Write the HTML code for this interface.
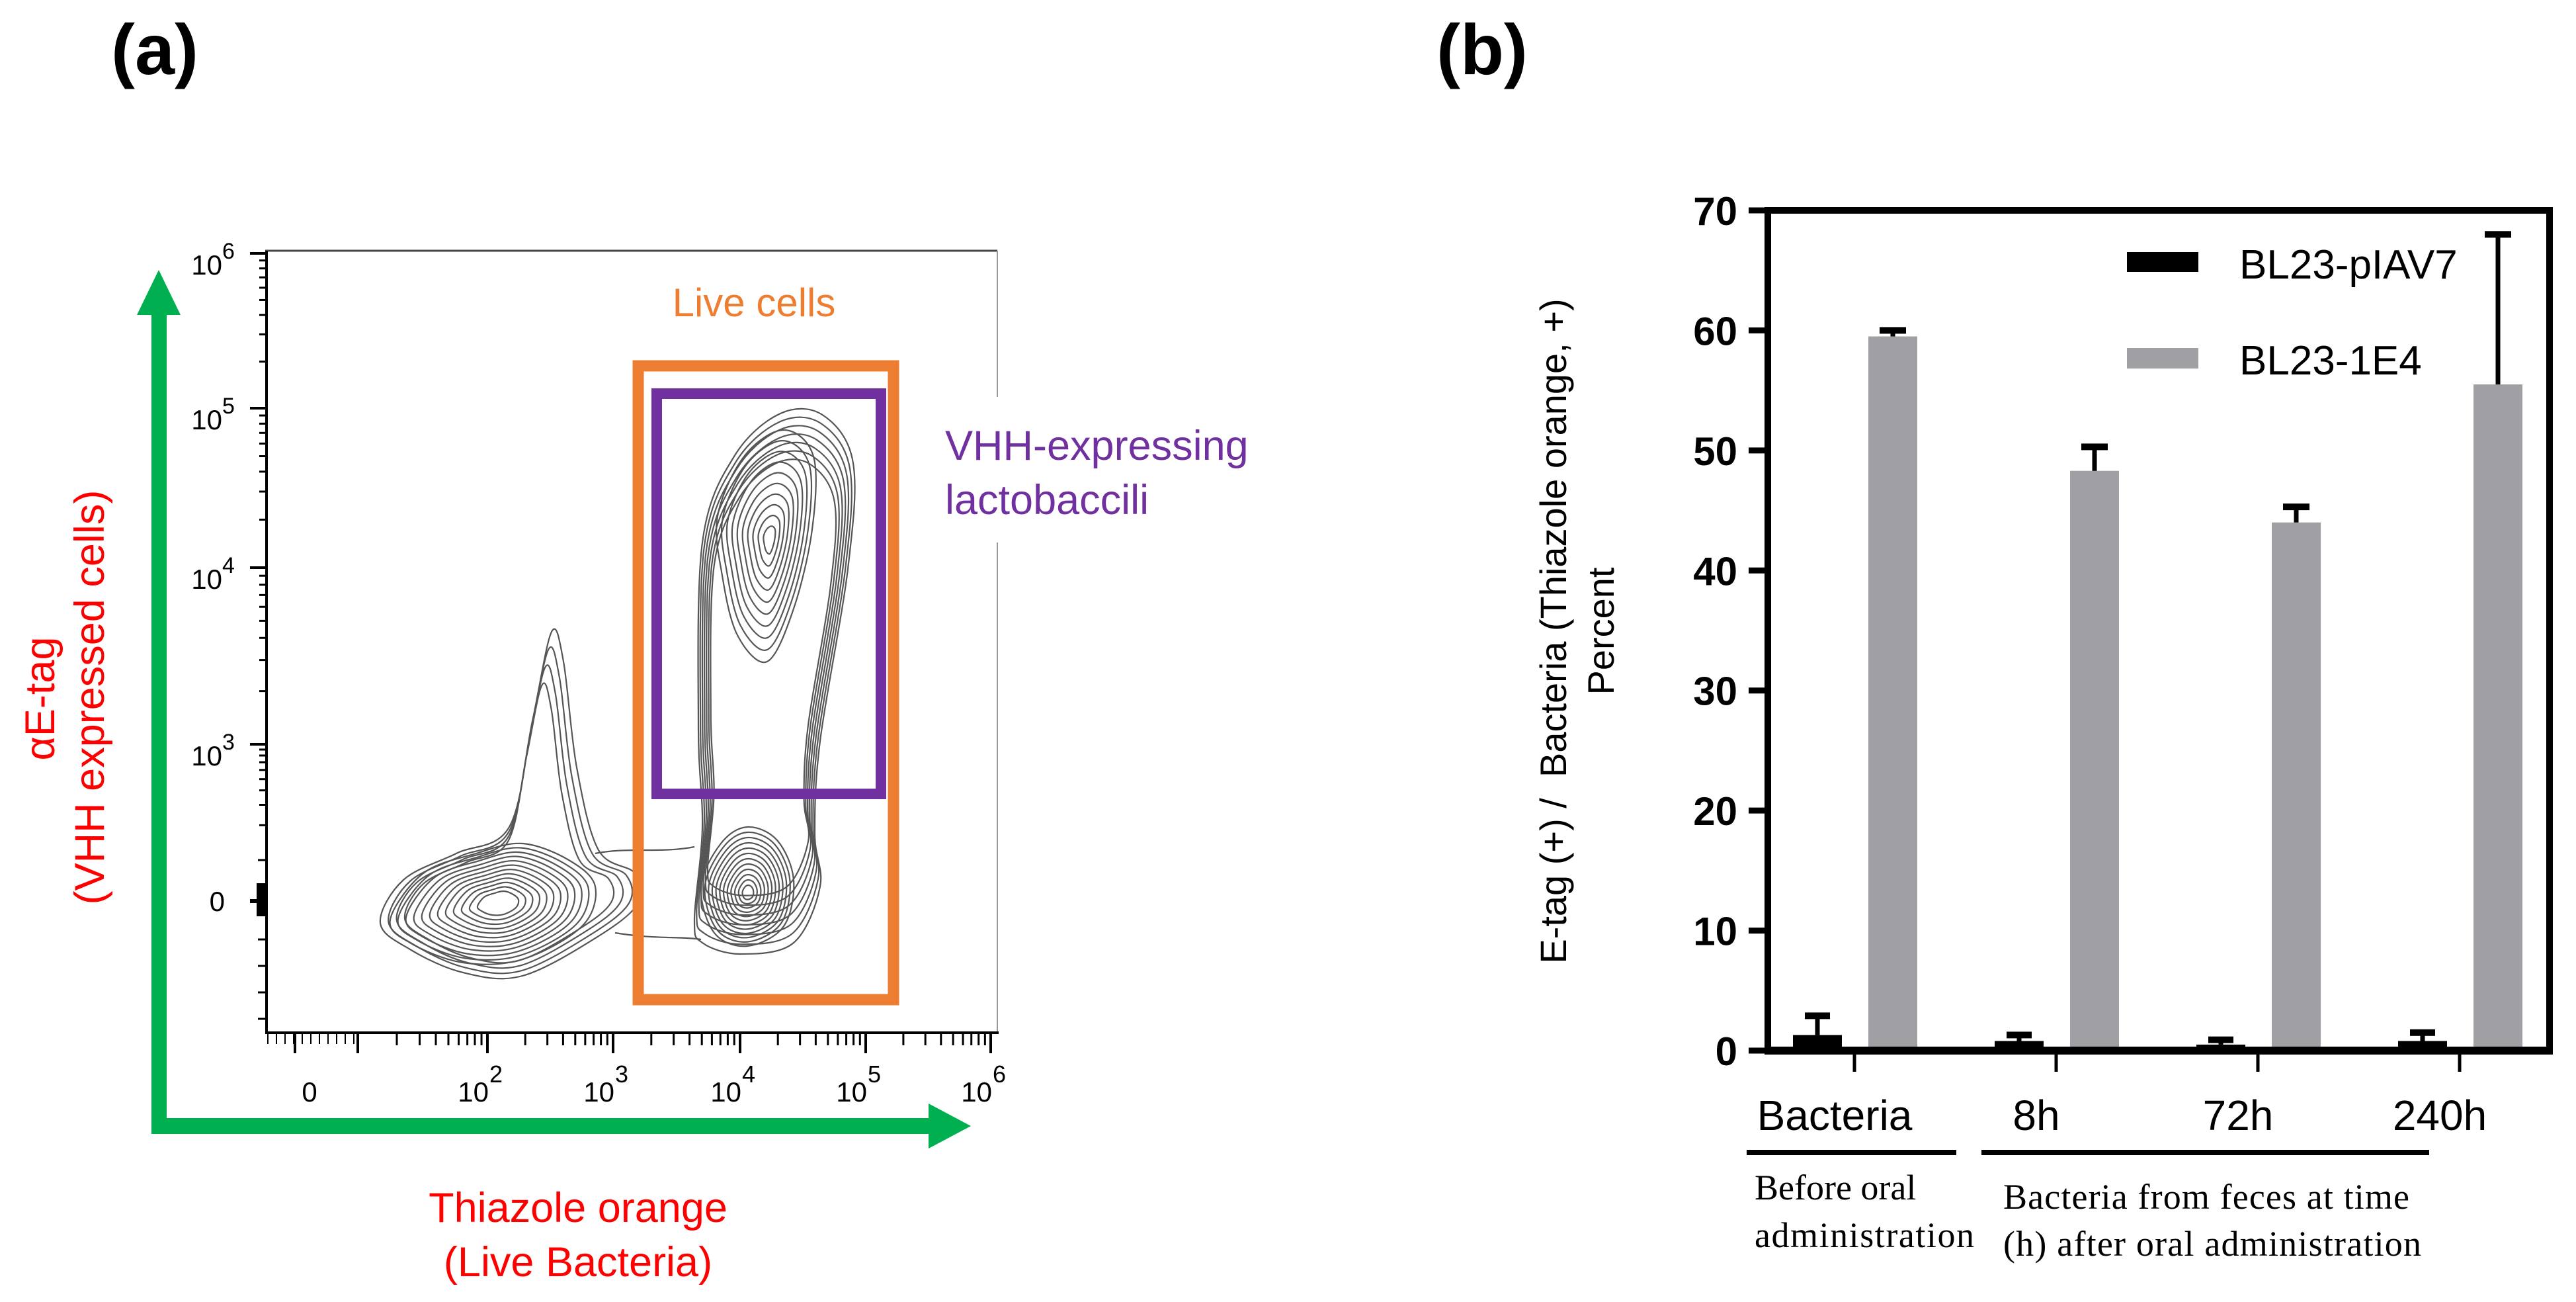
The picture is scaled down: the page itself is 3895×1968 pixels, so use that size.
<!DOCTYPE html>
<html><head><meta charset="utf-8"><style>
html,body{margin:0;padding:0;background:#fff}
svg{display:block}
text{font-family:"Liberation Sans",sans-serif}
</style></head><body>
<svg id="fig" width="3895" height="1968" viewBox="0 0 3895 1968" xmlns="http://www.w3.org/2000/svg">
<rect x="0" y="0" width="3895" height="1968" fill="#fff"/>
<text x="168" y="112" font-size="108" font-weight="bold">(a)</text>
<text x="2172" y="112" font-size="108" font-weight="bold">(b)</text>

<!-- Panel A -->
<g id="panelA">
  <line x1="401" y1="379" x2="1508" y2="379" stroke="#444" stroke-width="3"/>
  <line x1="1508" y1="379" x2="1508" y2="1561" stroke="#999" stroke-width="2"/>
  <g id="contours"></g>
  <line x1="403" y1="379" x2="403" y2="1561" stroke="#000" stroke-width="4"/>
  <line x1="401" y1="1561" x2="1510" y2="1561" stroke="#000" stroke-width="4"/>
  <g id="ticksA"></g>
  <rect x="965" y="553" width="386" height="958" fill="none" stroke="#ED7D31" stroke-width="17"/>
  <rect x="993" y="595" width="339" height="605" fill="none" stroke="#7030A0" stroke-width="16"/>
  <text x="1140" y="478" font-size="60" fill="#ED7D31" text-anchor="middle">Live cells</text>
  <rect x="1415" y="600" width="500" height="220" fill="#fff"/>
  <text x="1429" y="695" font-size="63" fill="#7030A0">VHH-expressing</text>
  <text x="1429" y="777" font-size="63" fill="#7030A0">lactobaccili</text>
  <!-- arrows -->
  <rect x="229" y="470" width="23" height="1244" fill="#00B050"/>
  <polygon points="207,476 240,408 273,476" fill="#00B050"/>
  <rect x="229" y="1690" width="1178" height="24" fill="#00B050"/>
  <polygon points="1404,1668 1468,1702 1404,1736" fill="#00B050"/>
  <text transform="translate(82,1056) rotate(-90)" font-size="63" fill="#FF0000" text-anchor="middle">αE-tag</text>
  <text transform="translate(157,1054) rotate(-90)" font-size="63" fill="#FF0000" text-anchor="middle">(VHH expressed cells)</text>
  <text x="874" y="1847" font-size="63" fill="#FF0000" text-anchor="middle">Thiazole orange</text>
  <text x="874" y="1929" font-size="63" fill="#FF0000" text-anchor="middle">(Live Bacteria)</text>
</g>

<!-- Panel B -->
<g id="panelB">
  <g id="bars"></g>
  <rect x="2673" y="318" width="1182" height="1270" fill="none" stroke="#000" stroke-width="10"/>
  <line x1="2668" y1="1588" x2="3860" y2="1588" stroke="#000" stroke-width="12"/>
  <g id="yticksB"></g>
  <g id="xticksB"></g>
  <text transform="translate(2368,954) rotate(-90)" font-size="56" text-anchor="middle" xml:space="preserve">E-tag (+) /  Bacteria (Thiazole orange, +)</text>
  <text transform="translate(2440,954) rotate(-90)" font-size="56" text-anchor="middle">Percent</text>
  <g>
    <rect x="3216" y="381" width="108" height="30" fill="#000"/>
    <text x="3386" y="421" font-size="62">BL23-pIAV7</text>
    <rect x="3216" y="526" width="108" height="31" fill="#A0A0A4"/>
    <text x="3386" y="566" font-size="62">BL23-1E4</text>
  </g>
  <rect x="2641" y="1738" width="317" height="8" fill="#000"/>
  <rect x="2996" y="1738" width="677" height="8" fill="#000"/>
  <g font-size="54">
    <text x="2653" y="1813" style="font-family:'Liberation Serif',serif">Before oral</text>
    <text x="2653" y="1885" style="font-family:'Liberation Serif',serif" textLength="332">administration</text>
    <text x="3029" y="1827" style="font-family:'Liberation Serif',serif" textLength="614">Bacteria from feces at time</text>
    <text x="3029" y="1898" style="font-family:'Liberation Serif',serif" textLength="632">(h) after oral administration</text>
  </g>
</g>

<script>
// ---- bar chart data ----
const categories = ["Bacteria", "8h", "72h", "240h"];
const yTicks = [0, 10, 20, 30, 40, 50, 60, 70];
const pIAV7Values = [1.3, 0.8, 0.5, 0.8];
const pIAV7Errors = [1.6, 0.5, 0.4, 0.7];
const e4Values = [59.5, 48.3, 44.0, 55.5];
const e4Errors = [0.5, 2.0, 1.3, 12.5];

const NS = "http://www.w3.org/2000/svg";
function mk(tag, attrs, parent) {
  const el = document.createElementNS(NS, tag);
  for (const k in attrs) el.setAttribute(k, attrs[k]);
  parent.appendChild(el);
  return el;
}
const Y0 = 1588, Y70 = 318;
function yScale(v) { return Y0 - (v / 70) * (Y0 - Y70); }
function xScale(i) { return 2804 + i * 305; }

const bars = document.getElementById('bars');
const BW = 74;
categories.forEach((c, i) => {
  const cx = xScale(i);
  const bx = cx - 93, gx = cx + 21;
  const b = mk('rect', {x: bx, y: yScale(pIAV7Values[i]), width: BW, height: Y0 - yScale(pIAV7Values[i]), fill: '#000'}, bars);
  
  
  const eb = mk('line', {x1: bx + BW/2, x2: bx + BW/2, y1: yScale(pIAV7Values[i]), y2: yScale(pIAV7Values[i] + pIAV7Errors[i]), stroke: '#000', 'stroke-width': 7}, bars);
  
  
  const ec = mk('rect', {x: bx + BW/2 - 19, y: yScale(pIAV7Values[i] + pIAV7Errors[i]) - 5, width: 38, height: 10, fill: '#000'}, bars);
  
  

  const g = mk('rect', {x: gx, y: yScale(e4Values[i]), width: BW, height: Y0 - yScale(e4Values[i]), fill: '#A0A0A4'}, bars);
  
  
  const ge = mk('line', {x1: gx + BW/2, x2: gx + BW/2, y1: yScale(e4Values[i]), y2: yScale(e4Values[i] + e4Errors[i]), stroke: '#000', 'stroke-width': 7}, bars);
  
  
  const gc = mk('rect', {x: gx + BW/2 - 20, y: yScale(e4Values[i] + e4Errors[i]) - 5, width: 40, height: 10, fill: '#000'}, bars);
  
  
});

const yt = document.getElementById('yticksB');
yTicks.forEach(v => {
  const t = mk('line', {x1: 2644, x2: 2673, y1: yScale(v), y2: yScale(v), stroke: '#000', 'stroke-width': 9}, yt);
  
  
  const l = mk('text', {x: 2627, y: yScale(v) + 22, 'font-size': 60, 'font-weight': 'bold', 'text-anchor': 'end'}, yt);
  l.textContent = v;
  
  
});
const xt = document.getElementById('xticksB');
categories.forEach((c, i) => {
  const t = mk('line', {x1: xScale(i), x2: xScale(i), y1: 1594, y2: 1620, stroke: '#000', 'stroke-width': 5}, xt);
  
  
  const l = mk('text', {x: xScale(i) - 30, y: 1708, 'font-size': 64, 'text-anchor': 'middle'}, xt);
  l.textContent = c;
  
  
});

// ---- panel A axes ----
const ta = document.getElementById('ticksA');
const yMajor = [383, 617, 858, 1125];
const yMajorLabels = ["6", "5", "4", "3"];
yMajor.forEach((y, k) => {
  mk('line', {x1: 378, x2: 403, y1: y, y2: y, stroke: '#000', 'stroke-width': 4}, ta);
  const next = k < 3 ? yMajor[k + 1] : 1300;
  for (let m = 2; m <= 9; m++) {
    const yy = y + (next - y) * (1 - Math.log10(m));
    mk('line', {x1: 392, x2: 403, y1: yy, y2: yy, stroke: '#000', 'stroke-width': 3}, ta);
  }
  const tx = mk('text', {x: 336, y: y + 32, 'font-size': 42, 'text-anchor': 'end'}, ta);
  tx.textContent = "10";
  const sp = mk('text', {x: 336, y: y + 8, 'font-size': 34}, ta);
  sp.textContent = yMajorLabels[k];
});
for (let y = 1300; y < 1560; y += 40) mk('line', {x1: 390, x2: 403, y1: y, y2: y, stroke: '#000', 'stroke-width': 3}, ta);
mk('rect', {x: 388, y: 1335, width: 15, height: 50, fill: '#000'}, ta);
mk('line', {x1: 378, x2: 403, y1: 1362, y2: 1362, stroke: '#000', 'stroke-width': 6}, ta);
const z = mk('text', {x: 340, y: 1377, 'font-size': 42, 'text-anchor': 'end'}, ta); z.textContent = "0";

const xMajor = [541, 737, 927, 1119, 1309, 1498];
const xMajorLabels = ["", "2", "3", "4", "5", "6"];
xMajor.forEach((x, k) => {
  mk('line', {x1: x, x2: x, y1: 1561, y2: 1592, stroke: '#000', 'stroke-width': 4}, ta);
  if (k > 0) {
    const prev = xMajor[k - 1];
    for (let m = 2; m <= 9; m++) {
      const xx = prev + (x - prev) * Math.log10(m);
      mk('line', {x1: xx, x2: xx, y1: 1561, y2: 1580, stroke: '#000', 'stroke-width': 3}, ta);
    }
    const tx = mk('text', {x: x + 2, y: 1665, 'font-size': 42, 'text-anchor': 'end'}, ta);
    tx.textContent = "10";
    const sp = mk('text', {x: x + 3, y: 1636, 'font-size': 36}, ta);
    sp.textContent = xMajorLabels[k];
  }
});
for (let x = 405; x < 541; x += 13) mk('line', {x1: x, x2: x, y1: 1561, y2: 1578, stroke: '#000', 'stroke-width': 2}, ta);
mk('line', {x1: 446, x2: 446, y1: 1561, y2: 1592, stroke: '#000', 'stroke-width': 4}, ta);
const zx = mk('text', {x: 468, y: 1665, 'font-size': 42, 'text-anchor': 'middle'}, ta); zx.textContent = "0";

// ---- contour drawing (decorative shapes) ----
const cg = document.getElementById('contours');
function smooth(pts) {
  let d = "";
  const n = pts.length;
  for (let i = 0; i < n; i++) {
    const p0 = pts[(i - 1 + n) % n], p1 = pts[i], p2 = pts[(i + 1) % n], p3 = pts[(i + 2) % n];
    if (i === 0) d += "M" + p1[0].toFixed(1) + "," + p1[1].toFixed(1);
    const c1 = [p1[0] + (p2[0] - p0[0]) / 6, p1[1] + (p2[1] - p0[1]) / 6];
    const c2 = [p2[0] - (p3[0] - p1[0]) / 6, p2[1] - (p3[1] - p1[1]) / 6];
    d += "C" + c1.map(v => v.toFixed(1)).join(",") + " " + c2.map(v => v.toFixed(1)).join(",") + " " + p2[0].toFixed(1) + "," + p2[1].toFixed(1);
  }
  return d + "Z";
}
function nest(shape, c, n, minS) {
  for (let i = 0; i < n; i++) {
    const s = 1 - (1 - minS) * i / (n - 1);
    const pts = shape.map(p => [c[0] + (p[0] - c[0]) * s, c[1] + (p[1] - c[1]) * s]);
    mk('path', {d: smooth(pts), fill: 'none', stroke: '#555', 'stroke-width': 2.2}, cg);
  }
}
nest([[575,1395],[610,1330],[690,1290],[770,1250],[805,1090],[834,955],[852,1000],[872,1160],[905,1285],[960,1320],[965,1365],[905,1415],[790,1475],[700,1470],[620,1435]], [760,1360], 4, 0.8);
nest([[590,1390],[640,1320],[720,1290],[790,1275],[860,1300],[900,1340],[880,1400],[790,1450],[700,1455],[620,1425]], [755,1365], 12, 0.2);
nest([[1050,1390],[1062,1250],[1056,1100],[1062,820],[1110,690],[1180,625],[1245,628],[1290,700],[1282,860],[1240,1120],[1232,1260],[1240,1340],[1200,1425],[1120,1442],[1062,1425]], [1150,1000], 7, 0.8);
nest([[1085,780],[1125,690],[1185,650],[1230,690],[1228,800],[1200,920],[1160,1000],[1115,960],[1092,870]], [1164,815], 10, 0.12);
nest([[1060,1340],[1090,1275],[1130,1250],[1175,1270],[1200,1330],[1185,1400],[1130,1430],[1080,1410]], [1131,1350], 12, 0.12);
mk('path', {d: "M900,1290 C950,1280 1000,1290 1050,1280", fill: 'none', stroke: '#555', 'stroke-width': 2.2}, cg);
mk('path', {d: "M930,1410 C990,1420 1030,1415 1060,1420", fill: 'none', stroke: '#555', 'stroke-width': 2.2}, cg);
</script>
</svg>
</body></html>
